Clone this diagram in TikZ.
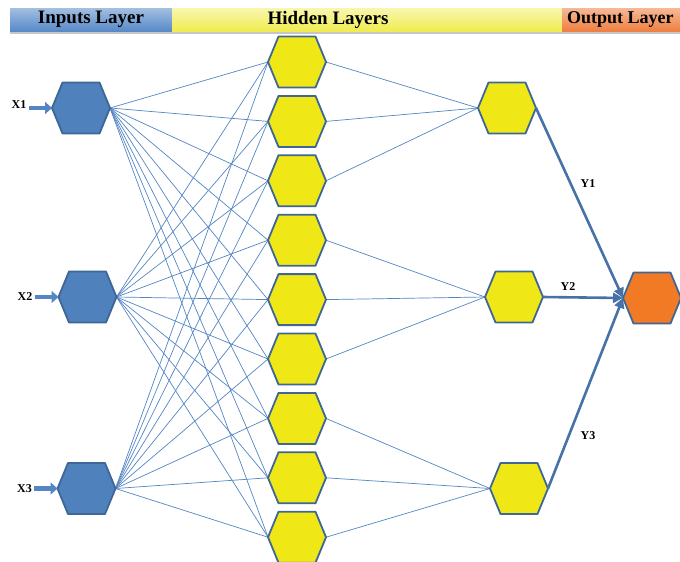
\documentclass[tikz,border=0pt]{standalone}
\usepackage{fontspec}
\setmainfont{Liberation Serif}
\usetikzlibrary{calc,arrows.meta,backgrounds}
\definecolor{inblue}{RGB}{79,129,189}
\definecolor{edgeblue}{RGB}{62,102,150}
\definecolor{hidyel}{RGB}{240,232,22}
\definecolor{outorange}{RGB}{242,122,36}
\definecolor{linkblue}{RGB}{84,134,196}
\definecolor{barblue}{RGB}{88,138,200}
\definecolor{baryel}{RGB}{240,236,80}
\definecolor{barorange}{RGB}{238,128,66}

\tikzset{
 hexbox/.style={minimum width=58pt, minimum height=51pt, inner sep=0pt, outer sep=0pt},
 hexline/.style={draw=edgeblue, line width=1.8pt, line join=round},
 link/.style={draw=linkblue, line width=0.7pt},
 outlink/.style={draw=linkblue!85!black, line width=2.6pt, -{Triangle[length=10pt,width=10pt]}},
 inarrow/.style={draw=linkblue, line width=4.2pt, -{Triangle[length=7pt,width=12pt]}},
 lab/.style={font=\bfseries\fontsize{12}{12}\selectfont, inner sep=0pt},
 head/.style={font=\bfseries\fontsize{19}{19}\selectfont, inner sep=0pt},
}
\newcommand\hexplace[3]{\node[hexbox] (#1) at ({#2},{#3}) {};}
\newcommand\hexdraw[2]{%
 \draw[hexline, fill=#2] (#1.west) -- ($(#1.north west)+(10.5,0)$) -- ($(#1.north east)+(-10.5,0)$) -- (#1.east) -- ($(#1.south east)+(-10.5,0)$) -- ($(#1.south west)+(10.5,0)$) -- cycle;}

\begin{document}
\begin{tikzpicture}[x=1pt,y=-1pt]
\useasboundingbox (0,0) rectangle (680,562);
\fill[white] (0,0) rectangle (680,562);

% header bar
\fill[gray!45] (10,31) rectangle (680,33.5);
\shade[top color=barblue!55!white, bottom color=barblue] (10,8) rectangle (172,31);
\shade[top color=baryel!45!white, bottom color=baryel] (172,8) rectangle (562,31);
\shade[top color=barorange!55!white, bottom color=barorange] (562,8) rectangle (680,31);
\node[head] (hin) at (91,19.5) {Inputs Layer};
\node[head] (hhid) at (328,19.5) {Hidden Layers};
\node[head, anchor=west, font=\bfseries\fontsize{18}{18}\selectfont] (hout) at (567,19.5) {Output Layer};

% nodes
\hexplace{x1}{81}{108}
\hexplace{x2}{87.5}{297}
\hexplace{x3}{86.5}{488.5}
\foreach \i in {1,...,9} {\hexplace{h\i}{297}{62+59.4*(\i-1)}}
\hexplace{g1}{507}{108}
\hexplace{g2}{514}{297}
\hexplace{g3}{519}{488.5}
\hexplace{o}{652}{298}

% links
\foreach \a in {1,2,3} {\foreach \b in {1,...,9} {\draw[link] (x\a.east) -- (h\b.west);}}
\foreach \b in {1,2,3} {\draw[link] (h\b.east) -- (g1.west);}
\foreach \b in {4,5,6} {\draw[link] (h\b.east) -- (g2.west);}
\foreach \b in {7,8,9} {\draw[link] (h\b.east) -- (g3.west);}

% hexagons
\foreach \n in {x1,x2,x3} {\hexdraw{\n}{inblue}}
\foreach \i in {1,...,9} {\hexdraw{h\i}{hidyel}}
\foreach \n in {g1,g2,g3} {\hexdraw{\n}{hidyel}}
\hexdraw{o}{outorange}

% inputs
\node[lab] (lx1) at (19,104.5) {X1};
\node[lab] (lx2) at (25,296.5) {X2};
\node[lab] (lx3) at (24.5,488.5) {X3};
\coordinate (ax1) at (29,108);
\coordinate (ax2) at (34.5,297);
\coordinate (ax3) at (34,488.5);
\draw[inarrow] (ax1) -- (x1.west);
\draw[inarrow] (ax2) -- (x2.west);
\draw[inarrow] (ax3) -- (x3.west);

% outputs
\draw[outlink] (g1.east) -- (o.west);
\draw[outlink] (g2.east) -- (o.west);
\draw[outlink] (g3.east) -- (o.west);
\node[lab] (ly1) at (588,184) {Y1};
\node[lab] (ly2) at (568,287) {Y2};
\node[lab] (ly3) at (588,436) {Y3};
\end{tikzpicture}
\end{document}
